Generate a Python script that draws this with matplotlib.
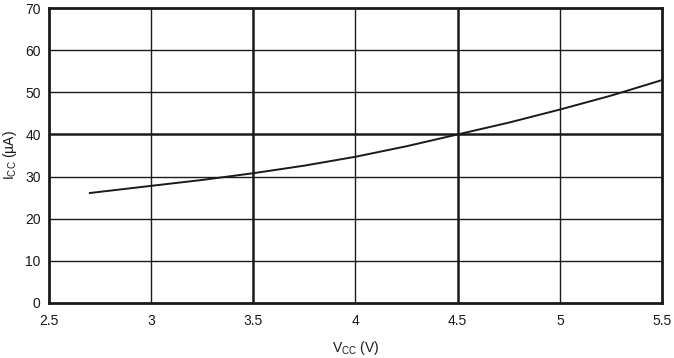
import matplotlib
matplotlib.use("Agg")
import matplotlib.pyplot as plt
import numpy as np

plt.rcParams['font.family'] = ['Liberation Sans', 'DejaVu Sans']

vcc = [2.7, 3.0, 3.25, 3.5, 3.75, 4.0, 4.25, 4.5, 4.75, 5.0, 5.25, 5.5]
icc = [26.1, 27.8, 29.2, 30.8, 32.6, 34.7, 37.2, 40.0, 42.8, 45.9, 49.2, 52.9]

xticks = [2.5, 3, 3.5, 4, 4.5, 5, 5.5]
xticklabels = ['2.5', '3', '3.5', '4', '4.5', '5', '5.5']
yticks = [0, 10, 20, 30, 40, 50, 60, 70]

fig = plt.figure(figsize=(6.74, 3.58), dpi=100)
ax = fig.add_axes([49/674, 1 - 303/358, (662-49)/674, (303-8)/358])
ax.set_xlim(2.5, 5.5)
ax.set_ylim(0, 70)

for x in xticks[1:-1]:
    lw = 1.8 if x in (3.5, 4.5) else 1.0
    ax.axvline(x, color='#1a1a1a', lw=lw, zorder=1)
for y in yticks[1:-1]:
    lw = 1.8 if y == 40 else 1.0
    ax.axhline(y, color='#1a1a1a', lw=lw, zorder=1)

ax.plot(vcc, icc, color='#1a1a1a', lw=1.4, zorder=3, solid_joinstyle='round')

for s in ax.spines.values():
    s.set_linewidth(2.0)
    s.set_color('#1a1a1a')

ax.set_xticks(xticks)
ax.set_xticklabels(xticklabels)
ax.set_yticks(yticks)
ax.tick_params(length=0, labelsize=10, colors='#1a1a1a', pad=8)
ax.tick_params(axis='y', pad=6)

ax.set_xlabel(r'V$_{\mathregular{CC}}$ (V)', fontsize=10, color='#1a1a1a', labelpad=8)
ax.set_ylabel(r'I$_{\mathregular{CC}}$ (µA)', fontsize=10, color='#1a1a1a', labelpad=4)

fig.savefig('out.png', dpi=100)
